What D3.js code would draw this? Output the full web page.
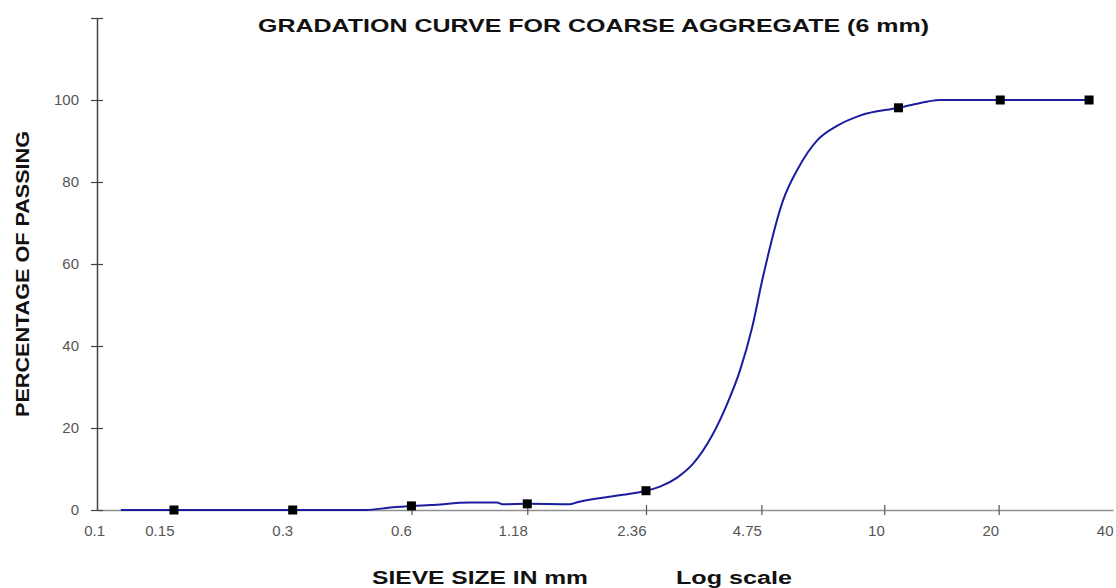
<!DOCTYPE html>
<html>
<head>
<meta charset="utf-8">
<style>
  body { margin: 0; background: #fff; }
  svg text { font-family: Arial, "Liberation Sans", sans-serif; }
</style>
</head>
<body>
<div id="chart"></div>
<script src="https://d3js.org/d3.v7.min.js"></script>
<script>

// sieve sizes printed under the axis (mm)
var sieveLabels = [0.1, 0.15, 0.3, 0.6, 1.18, 2.36, 4.75, 10, 20, 40];
// tick marks actually drawn on the axis
var sieveTickMarks = [0.6, 1.18, 2.36, 4.75, 10, 20];
var passTicks = [0, 20, 40, 60, 80, 100, 120];

// test points (square markers)
var markerSize = [0.15, 0.3, 0.6, 1.18, 2.36, 10.9, 20.2, 34.6];
var markerPass = [0, 0, 1.0, 1.5, 4.7, 98.1, 100, 100];

// traced gradation curve
var curveSize = [0.11, 0.15, 0.3, 0.46, 0.53, 0.6, 0.67, 0.845, 0.99, 1.02, 1.18, 1.51, 1.58, 2.06, 2.36,
                 2.57, 2.85, 3.14, 3.52, 3.86, 4.17, 4.49, 4.77, 5.41, 5.93, 6.65, 7.51, 8.63, 10.9,
                 12.95, 14.0, 20.2, 34.6];
var curvePass = [0, 0, 0, 0, 0.6, 1.0, 1.2, 1.8, 1.8, 1.4, 1.5, 1.4, 1.9, 3.7, 4.7,
                 5.7, 7.9, 11.3, 18.1, 25.9, 34, 44.5, 55.9, 75.4, 83.3, 90.1, 93.7, 96.2, 98.1,
                 99.6, 100, 100, 100];

var width = 1116, height = 588;
var mLeft = 97, mRight = 1113, mTop = 18, mBottom = 510;

var svg = d3.select("#chart")
  .append("svg")
    .attr("width", width)
    .attr("height", height);

// log scale, slightly compressed above 2.36 mm like the original sheet
var x = d3.scaleLog()
  .domain([0.0957, 2.36, 40])
  .range([mLeft, mLeft + 549, mRight]);

var y = d3.scaleLinear()
  .domain([0, 120])
  .range([mBottom, mTop]);

// x axis line + tick marks
var xAxis = svg.append("g")
  .attr("transform", "translate(0," + mBottom + ")")
  .call(d3.axisBottom(x).tickValues(sieveTickMarks).tickSize(5).tickSizeOuter(0).tickFormat(""));
xAxis.select(".domain").attr("stroke", "#8f8f8f").attr("stroke-width", 1.5);
xAxis.selectAll(".tick line").attr("y1", -5).attr("stroke", "#555").attr("stroke-width", 1.2);

// x labels, right aligned on the tick
var xLab = svg.append("g")
  .attr("transform", "translate(0," + mBottom + ")")
  .call(d3.axisBottom(x).tickValues(sieveLabels).tickSize(0).tickPadding(15).tickFormat(function(d) { return String(d); }));
xLab.select(".domain").remove();
xLab.selectAll("text")
  .attr("text-anchor", "end")
  .attr("fill", "#555")
  .style("font-size", "15px");

// y axis
var yAxis = svg.append("g")
  .attr("transform", "translate(" + mLeft + ",0)")
  .call(d3.axisLeft(y).tickValues(passTicks).tickSize(6).tickSizeOuter(0).tickPadding(12)
    .tickFormat(function(d) { return d == 120 ? "" : d; }));
yAxis.select(".domain").attr("stroke", "#444").attr("stroke-width", 1.5);
yAxis.selectAll(".tick line").attr("x2", -6).attr("x1", 6).attr("stroke", "#444").attr("stroke-width", 1.2);
yAxis.selectAll("text").attr("fill", "#555").style("font-size", "15px");

// curve
var curveData = curveSize.map(function(s, i) { return [s, curvePass[i]]; });
var line = d3.line()
  .x(function(d) { return x(d[0]); })
  .y(function(d) { return y(d[1]); })
  .curve(d3.curveMonotoneX);

svg.append("path")
  .datum(curveData)
  .attr("d", line)
  .attr("fill", "none")
  .attr("stroke", "#1c1ca0")
  .attr("stroke-width", 2);

// markers
var m = 9;
svg.append("g")
  .selectAll("rect")
  .data(markerSize)
  .enter()
  .append("rect")
    .attr("x", function(d) { return x(d) - m / 2; })
    .attr("y", function(d, i) { return y(markerPass[i]) - m / 2; })
    .attr("width", m)
    .attr("height", m)
    .attr("fill", "#000");

// titles (the original is stretched sideways, so the texts get a fixed length)
svg.append("text")
  .attr("x", 258)
  .attr("y", 32)
  .attr("textLength", 671)
  .attr("lengthAdjust", "spacingAndGlyphs")
  .style("font-size", "18px")
  .style("font-weight", "bold")
  .attr("fill", "#111")
  .text("GRADATION CURVE FOR COARSE AGGREGATE (6 mm)");

svg.append("text")
  .attr("transform", "translate(29,274) rotate(-90)")
  .attr("text-anchor", "middle")
  .attr("textLength", 286)
  .attr("lengthAdjust", "spacingAndGlyphs")
  .style("font-size", "18px")
  .style("font-weight", "bold")
  .attr("fill", "#111")
  .text("PERCENTAGE OF PASSING");

svg.append("text")
  .attr("x", 372)
  .attr("y", 584)
  .attr("textLength", 216)
  .attr("lengthAdjust", "spacingAndGlyphs")
  .style("font-size", "18px")
  .style("font-weight", "bold")
  .attr("fill", "#111")
  .text("SIEVE SIZE IN mm");

svg.append("text")
  .attr("x", 676)
  .attr("y", 584)
  .attr("textLength", 116)
  .attr("lengthAdjust", "spacingAndGlyphs")
  .style("font-size", "18px")
  .style("font-weight", "bold")
  .attr("fill", "#111")
  .text("Log scale");

</script>
</body>
</html>
